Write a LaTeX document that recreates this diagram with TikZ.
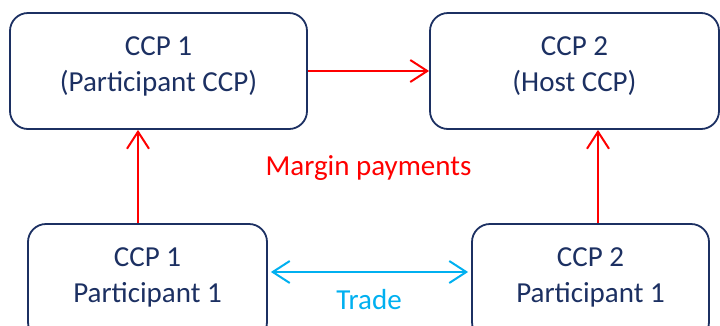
\documentclass[tikz,border=0pt]{standalone}
\usepackage{fontspec}
\setmainfont{Carlito}
\usetikzlibrary{arrows.meta}
\definecolor{ccpnavy}{RGB}{28,48,98}
\definecolor{marginred}{RGB}{255,0,0}
\definecolor{tradeblue}{RGB}{0,176,240}
\tikzstyle{arrow} = [line width=2pt,->,>={Straight Barb[length=17pt,width=22pt]}]
\tikzstyle{ccp} = [rectangle, rounded corners=18pt, draw=ccpnavy, line width=1.8pt, text=ccpnavy, align=center, minimum height=116pt, font=\fontsize{29}{36}\selectfont, execute at end node={\rule[-13pt]{0pt}{0pt}}]
\tikzstyle{lbl} = [font=\fontsize{29}{36}\selectfont]

\begin{document}
\begin{tikzpicture}[x=1pt, y=-1pt]
		\useasboundingbox (0,0) rectangle (720,325);
		\node (ccp1) [ccp, minimum width=297pt] at (158.5,71) {CCP 1\\(Participant CCP)};
		\node (ccp2) [ccp, minimum width=289pt] at (574.5,71) {CCP 2\\(Host CCP)};
		\node (par1) [ccp, minimum width=239pt] at (147.5,282) {CCP 1\\Participant 1};
		\node (par2) [ccp, minimum width=237pt] at (590.5,282) {CCP 2\\Participant 1};
		\draw [arrow, marginred] (ccp1) -- (ccp2);
		\draw [arrow, marginred] ([xshift=-9.5pt]par1.north) -- ([xshift=-9.5pt]par1.north |- ccp1.south);
		\draw [arrow, marginred] ([xshift=7.5pt]par2.north) -- ([xshift=7.5pt]par2.north |- ccp2.south);
		\node (margin) [lbl, text=marginred] at (368.5,168) {Margin payments};
		\draw [arrow, <->, tradeblue, shorten <=3pt, shorten >=3pt] ([yshift=10pt]par1.east) -- ([yshift=10pt]par1.east -| par2.west);
		\node (trade) [lbl, text=tradeblue] at (369,300) {Trade};
\end{tikzpicture}
\end{document}
